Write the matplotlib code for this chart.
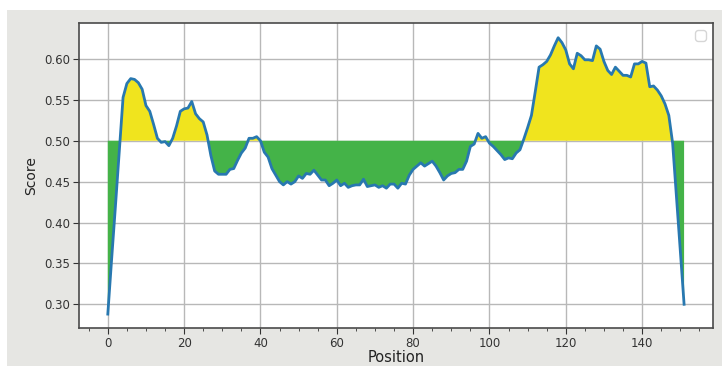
#!/usr/bin/env python3
"""Score profile along sequence position, filled above/below the 0.5 threshold."""
import numpy as np
import matplotlib
matplotlib.use("Agg")
import matplotlib.pyplot as plt
from matplotlib.patches import Rectangle
from matplotlib.ticker import MultipleLocator

THRESHOLD = 0.5

positions = list(range(152))
scores = [
    0.288, 0.355, 0.420, 0.487, 0.553, 0.570, 0.576, 0.575, 0.571, 0.563,
    0.543, 0.536, 0.520, 0.503, 0.498, 0.499, 0.494, 0.503, 0.518, 0.536,
    0.539, 0.540, 0.548, 0.533, 0.527, 0.523, 0.507, 0.482, 0.463, 0.459,
    0.459, 0.459, 0.465, 0.466, 0.476, 0.485, 0.491, 0.503, 0.503, 0.505,
    0.500, 0.486, 0.480, 0.466, 0.458, 0.450, 0.446, 0.450, 0.447, 0.450,
    0.457, 0.454, 0.460, 0.459, 0.464, 0.458, 0.452, 0.452, 0.445, 0.448,
    0.452, 0.445, 0.448, 0.443, 0.445, 0.446, 0.446, 0.453, 0.444, 0.445,
    0.446, 0.443, 0.445, 0.442, 0.447, 0.447, 0.442, 0.448, 0.447, 0.458,
    0.465, 0.469, 0.473, 0.469, 0.472, 0.475, 0.469, 0.461, 0.452, 0.457,
    0.460, 0.461, 0.465, 0.465, 0.475, 0.493, 0.496, 0.509, 0.503, 0.505,
    0.497, 0.493, 0.488, 0.483, 0.477, 0.479, 0.478, 0.485, 0.489, 0.502,
    0.516, 0.531, 0.560, 0.590, 0.593, 0.597, 0.605, 0.616, 0.626, 0.620,
    0.611, 0.594, 0.588, 0.607, 0.604, 0.599, 0.599, 0.598, 0.616, 0.612,
    0.597, 0.586, 0.581, 0.590, 0.585, 0.580, 0.580, 0.578, 0.594, 0.594,
    0.597, 0.595, 0.566, 0.567, 0.562, 0.555, 0.545, 0.531, 0.497, 0.432,
    0.366, 0.300,
]

x = np.array(positions)
y = np.array(scores)

fig = plt.figure(figsize=(7.22, 3.67), dpi=100, facecolor="white")
# grey window background behind the plot
fig.patches.append(Rectangle((7 / 722, 1 / 367), 1, 356 / 367, transform=fig.transFigure,
                             facecolor="#e6e6e3", edgecolor="none", zorder=-1))

ax = fig.add_axes([0.1094, 0.1063, 0.878, 0.831])
ax.set_facecolor("white")

ax.fill_between(x, y, THRESHOLD, where=y >= THRESHOLD, interpolate=True,
                color="#f0e41e", linewidth=0)
ax.fill_between(x, y, THRESHOLD, where=y < THRESHOLD, interpolate=True,
                color="#44b348", linewidth=0)
ax.plot(x, y, color="#2878b0", linewidth=2)

ax.set_xlim(-7.55, 158.55)
ax.set_ylim(0.271, 0.644)
ax.xaxis.set_major_locator(MultipleLocator(20))
ax.xaxis.set_minor_locator(MultipleLocator(5))
ax.yaxis.set_major_locator(MultipleLocator(0.05))
ax.yaxis.set_major_formatter(matplotlib.ticker.FormatStrFormatter("%.2f"))

ax.grid(True, which="major", color="#b8b8b8", linewidth=1)
ax.set_axisbelow(True)
for side in ax.spines.values():
    side.set_color("#4a4a4a")
    side.set_linewidth(1.2)
ax.tick_params(axis="both", which="major", labelsize=8.5, colors="#333333",
               length=4, pad=2.5)
ax.tick_params(axis="x", which="minor", length=2.5, colors="#333333")

ax.set_xlabel("Position", fontsize=10.5, color="#222222", labelpad=0)
ax.set_ylabel("Score", fontsize=10, color="#222222")

ax.legend(loc="upper right")

fig.savefig("out.png", dpi=100, facecolor=fig.get_facecolor())
